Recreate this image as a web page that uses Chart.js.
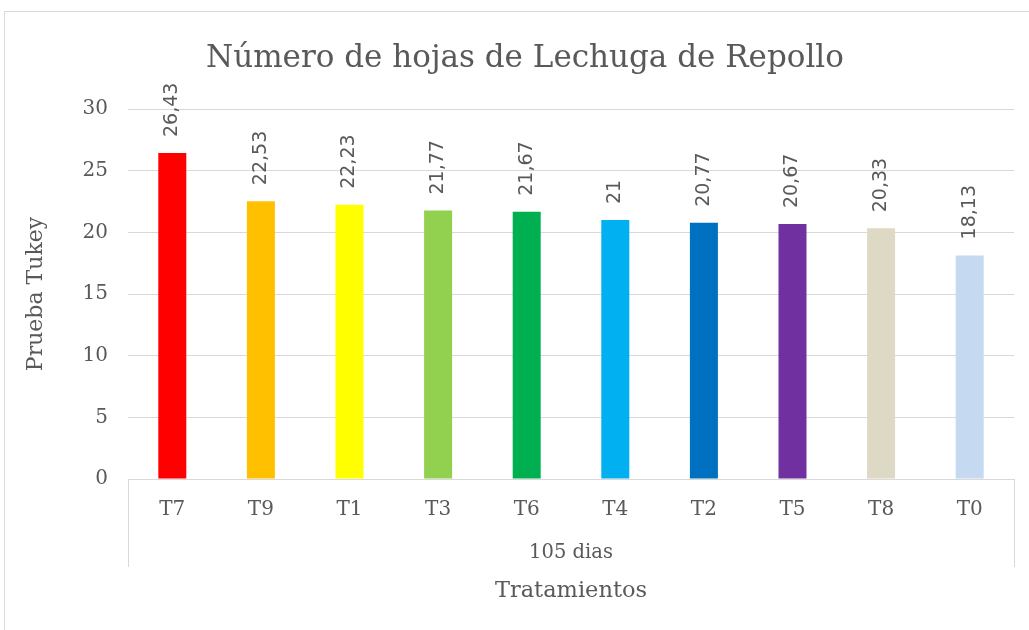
<!DOCTYPE html>
<html>
<head>
<meta charset="utf-8">
<script src="https://cdn.jsdelivr.net/npm/chart.js@4"></script>
<style>
  body { margin: 0; background: #fff; }
  #wrap { position: relative; width: 1029px; height: 630px; overflow: hidden; }
  #frame { position: absolute; left: 4px; top: 11px; width: 1040px; height: 640px; border: 1px solid #d9d9d9; box-sizing: border-box; }
  canvas { position: absolute; left: 0; top: 0; }
</style>
</head>
<body>
<div id="wrap">
  <div id="frame"></div>
  <canvas id="barChart" width="1029" height="630"></canvas>
</div>
<script>
// Número de hojas - 105 dias
const titulo = 'Número de hojas de Lechuga de Repollo';
const tratamientos = ['T7', 'T9', 'T1', 'T3', 'T6', 'T4', 'T2', 'T5', 'T8', 'T0'];
const valores = [26.43, 22.53, 22.23, 21.77, 21.67, 21, 20.77, 20.67, 20.33, 18.13];
const colores = ['#ff0000', '#ffc000', '#ffff00', '#92d050', '#00b050', '#00b0f0', '#0070c0', '#7030a0', '#ddd9c4', '#c5d9f1'];
const grupo = ['105 dias'];

const gris = '#595959';
const serif = 'DejaVu Serif';

// title, rotated value labels above bars, frame lines under the axis
const extras = {
  id: 'extras',
  afterDatasetsDraw(chart) {
    const ctx = chart.ctx;
    const meta = chart.getDatasetMeta(0);
    ctx.save();
    ctx.fillStyle = gris;
    ctx.font = '19px "DejaVu Sans"';
    ctx.textAlign = 'left';
    ctx.textBaseline = 'middle';
    meta.data.forEach((bar, i) => {
      ctx.save();
      ctx.translate(bar.x, bar.y - 16);
      ctx.rotate(-Math.PI / 2);
      ctx.fillText(String(valores[i]).replace('.', ','), 0, 0);
      ctx.restore();
    });
    ctx.restore();
  },
  afterDraw(chart) {
    const ctx = chart.ctx;
    const a = chart.chartArea;
    ctx.save();
    ctx.strokeStyle = '#d9d9d9';
    ctx.lineWidth = 1;
    ctx.beginPath();
    [a.left, a.right].forEach(x => {
      ctx.moveTo(Math.round(x) + 0.5, a.bottom);
      ctx.lineTo(Math.round(x) + 0.5, 567);
    });
    ctx.stroke();

    // title is a bit right of the canvas centre in the original
    ctx.fillStyle = gris;
    ctx.font = '31px "' + serif + '"';
    ctx.textAlign = 'center';
    ctx.textBaseline = 'middle';
    ctx.fillText(titulo, 525, 59);
    ctx.restore();
  }
};

const ctx = document.getElementById('barChart').getContext('2d');
new Chart(ctx, {
  type: 'bar',
  data: {
    labels: tratamientos,
    datasets: [{
      label: 'Prueba Tukey',
      data: valores,
      backgroundColor: colores,
      barPercentage: 0.316,
      categoryPercentage: 1
    }]
  },
  options: {
    responsive: false,
    animation: false,
    layout: { padding: { left: 10, right: 15, top: 109, bottom: 19 } },
    plugins: {
      legend: { display: false },
      tooltip: { enabled: false },
      title: { display: false }
    },
    scales: {
      x: {
        grid: { display: false },
        border: { color: '#d9d9d9' },
        ticks: { color: gris, font: { family: serif, size: 20 }, padding: 11 },
        afterFit(s) { s.height = 52; }
      },
      x2: {
        type: 'category',
        labels: grupo,
        position: 'bottom',
        grid: { display: false },
        border: { display: false },
        ticks: { color: gris, font: { family: serif, size: 19.5 }, padding: 2 },
        title: {
          display: true,
          text: 'Tratamientos',
          color: gris,
          font: { family: serif, size: 22.5 },
          padding: { top: 0, bottom: 6 }
        },
        afterFit(s) { s.height = 80; }
      },
      y: {
        min: 0,
        max: 30,
        ticks: { stepSize: 5, color: gris, font: { family: serif, size: 20 }, padding: 20 },
        grid: { color: '#d9d9d9', drawTicks: false },
        border: { display: false },
        title: {
          display: true,
          text: 'Prueba Tukey',
          color: gris,
          font: { family: serif, size: 22 },
          padding: { top: 13, bottom: 0 }
        },
        afterFit(s) { s.width = 118; }
      }
    }
  },
  plugins: [extras]
});
</script>
</body>
</html>
